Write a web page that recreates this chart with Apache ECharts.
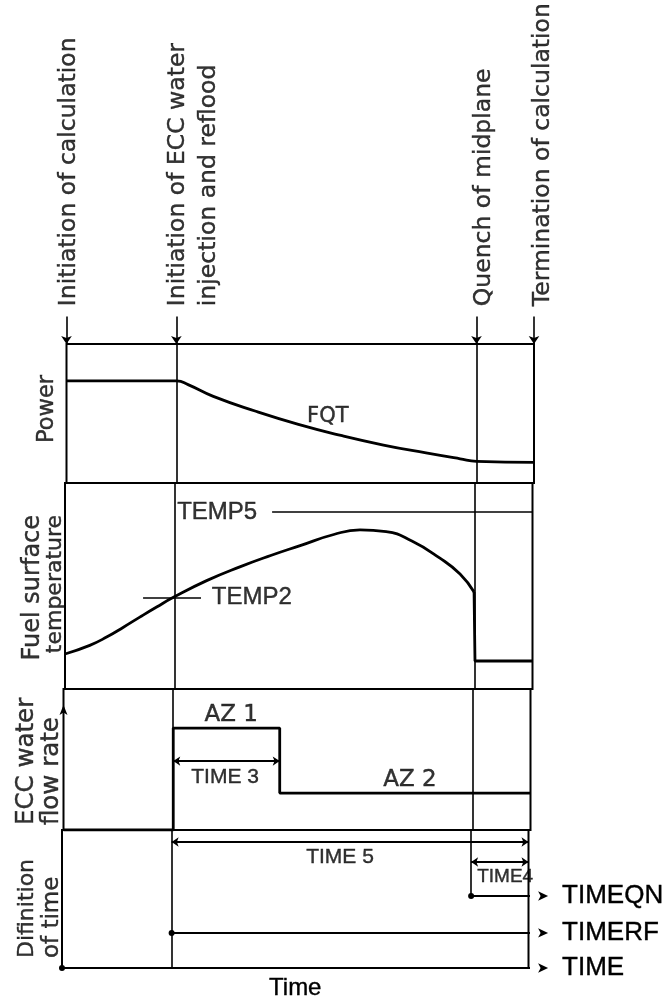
<!DOCTYPE html>
<html><head><meta charset="utf-8">
<script src="https://cdn.jsdelivr.net/npm/echarts@6/dist/echarts.min.js"></script>
<style>html,body{margin:0;padding:0;background:#fff}#chart{width:668px;height:1004px}</style>
</head><body><div id="chart"></div>
<script>
// ---------------- data (time in arbitrary units, 0 = initiation, 100 = termination) ----------------
const eventNames = [['Initiation of calculation'], ['Initiation of ECC water', 'injection and reflood'], ['Quench of midplane'], ['Termination of calculation']];
const eventTimes = [0, 23.5, 87.7, 100];
const panelNames = [['Power'], ['Fuel surface', 'temperature'], ['ECC water', 'flow rate'], ['Difinition', 'of time']];

const powerTime  = [0, 23.6, 26.0, 31.4, 40.5, 49.6, 58.7, 67.8, 76.9, 84.2, 87.7, 100];
const powerValue = [73.4, 73.4, 70.8, 62.3, 51.6, 42.2, 34.2, 27.3, 21.6, 17.4, 15.6, 14.8];

const tempTime  = [0, 5.3, 8.9, 12.5, 16.0, 19.6, 23.2, 30.3, 37.4, 44.0, 50.3, 57.5, 63.1, 68.7, 74.2, 80.2, 84.5, 87.5];
const tempValue = [17, 21.2, 25.2, 30.0, 34.9, 39.8, 44.5, 52.6, 59.3, 64.8, 69.6, 75.0, 77.2, 76.4, 71.8, 63.5, 55.8, 47.1];
const quenchTime  = [87.5, 87.7, 100];
const quenchValue = [47.1, 13.6, 13.6];
const temp5Level = 85.9, temp5Start = 44.3;
const temp2Level = 44.5, temp2TickFrom = 16.7, temp2TickTo = 29.1;

const flowTime  = [0, 23.5, 23.5, 46.3, 46.3, 100];
const flowValue = [0, 0, 72.3, 72.3, 26.2, 26.2];
const time3Level = 48.9;
const flowAxisArrow = 88.7;

const spanNames  = ['TIME 5', 'TIME4'];
const spanStart  = [23.5, 87.7];
const spanEnd    = [100, 100];
const spanLevel  = [91.3, 76.8];

const timerNames = ['TIMEQN', 'TIMERF', 'TIME'];
const timerStart = [87.7, 23.5, 0];
const timerLevel = [52.2, 25.4, 0];
const timerArrowEnd = 104.2;

// annotation anchors (data coords)
const powerNotes = [{ text: 'FQT', t: 55.9, v: 47.7 }];
const tempNotes  = [{ text: 'TEMP5', t: 24.0, v: temp5Level }, { text: 'TEMP2', t: 31.4, v: temp2Level }];
const flowNotes  = [{ text: 'AZ 1', t: 35.9, v: 81.6 }, { text: 'AZ 2', t: 74.2, v: 35.5 }, { text: 'TIME 3', t: 34.6, v: 37.6 }];
const defNotes   = [{ text: spanNames[0], t: 59.6, v: 80.4 }, { text: spanNames[1], t: 95, v: 66 }];
const panelNameAnchor = [28.8, 84.5, 3.5, 7.2];   // value where each panel title text starts/ends

// ---------------- layout / style ----------------
const boxes = [
  { top: 0,   height: 344, left: 66.5, right: 534 },
  { top: 344, height: 139, left: 66.5, right: 534 },
  { top: 483, height: 206, left: 65,   right: 532.5 },
  { top: 689, height: 141, left: 63.5, right: 530.5 },
  { top: 830, height: 138, left: 62,   right: 528.5 }
];
const INK = '#000';
const geo = 'DejaVu Sans';
const arial = 'Liberation Sans';
const eventOffsets = [2, 2, 7, 9];
const eventLineGap = 31;
const labelBase = 0.11, stubTop = 0.08;
const panelNameAlign = ['left', 'right', 'left', 'left'];
const panelNameGaps = [[19.5], [32, 10], [36.5, 11.5], [35, 10]];
const panelNameSizes = [[22.5], [24, 22], [24.5, 24.5], [22, 23]];
const ink = { color: INK, textBorderColor: INK, textBorderWidth: 0.4 };

const thin = { color: INK, width: 1.6, type: 'solid' };
const thick = { color: INK, width: 2.8, type: 'solid' };
const arrowLine = { color: INK, width: 2, type: 'solid' };

function vline(t, y1, y2) {
  if (y1 === undefined) return { xAxis: t };
  return [{ coord: [t, y1] }, { coord: [t, y2] }];
}
function noteSeries(grid, notes, font, size, align) {
  return {
    type: 'scatter', xAxisIndex: grid, yAxisIndex: grid, symbolSize: 0, silent: true, z: 5,
    data: notes.map(n => ({ value: [n.t, n.v], name: n.text })),
    label: Object.assign({ show: true, position: 'inside', formatter: p => p.name,
      fontFamily: font, fontSize: size, align: align || 'center', verticalAlign: 'middle' }, ink)
  };
}
function markLines(data, extra) {
  return Object.assign({ silent: true, symbol: 'none', label: { show: false }, lineStyle: thin, data: data, animation: false }, extra || {});
}

const series = [];

// event labels + arrow stubs above the panels
const evData = [];
eventNames.forEach((lines, i) => lines.forEach((txt, j) => evData.push({
  value: [eventTimes[i], labelBase], name: txt,
  label: { offset: [0, eventOffsets[i] + j * eventLineGap] }
})));
series.push({
  type: 'scatter', xAxisIndex: 0, yAxisIndex: 0, symbolSize: 0, silent: true, data: evData,
  label: Object.assign({ show: true, position: 'inside', rotate: 90, align: 'left', verticalAlign: 'middle',
    formatter: p => p.name, fontFamily: geo, fontSize: 23.5 }, ink),
  markLine: markLines(eventTimes.map(t => vline(t, stubTop, 0)), { symbol: ['none', 'arrow'], symbolSize: 8 })
});

// panel titles (rotated, left of each panel)
panelNames.forEach((lines, p) => series.push({
  type: 'scatter', xAxisIndex: p + 1, yAxisIndex: p + 1, symbolSize: 0, silent: true,
  data: lines.map((txt, j) => ({ value: [0, panelNameAnchor[p]], name: txt,
    label: { offset: [0, -panelNameGaps[p][j]], fontSize: panelNameSizes[p][j] } })),
  label: Object.assign({ show: true, position: 'inside', rotate: 90, align: panelNameAlign[p], verticalAlign: 'middle',
    formatter: q => q.name, fontFamily: geo }, ink)
}));

// power panel
series.push({
  type: 'line', xAxisIndex: 1, yAxisIndex: 1, showSymbol: false, smooth: 0.5, silent: true,
  lineStyle: thick, data: powerTime.map((t, i) => [t, powerValue[i]]),
  markLine: markLines([vline(eventTimes[1]), vline(eventTimes[2])])
});
series.push(noteSeries(1, powerNotes, geo, 21));

// fuel temperature panel
series.push({
  type: 'line', xAxisIndex: 2, yAxisIndex: 2, showSymbol: false, smooth: 0.5, silent: true,
  lineStyle: thick, data: tempTime.map((t, i) => [t, tempValue[i]]),
  markLine: markLines([vline(eventTimes[1]), vline(eventTimes[2]),
    [{ coord: [temp5Start, temp5Level] }, { coord: [100, temp5Level] }],
    [{ coord: [temp2TickFrom, temp2Level] }, { coord: [temp2TickTo, temp2Level] }]])
});
series.push({
  type: 'line', xAxisIndex: 2, yAxisIndex: 2, showSymbol: false, silent: true,
  lineStyle: thick, data: quenchTime.map((t, i) => [t, quenchValue[i]])
});
series.push(noteSeries(2, tempNotes, arial, 24, 'left'));

// ECC flow panel
series.push({
  type: 'line', xAxisIndex: 3, yAxisIndex: 3, showSymbol: false, silent: true,
  lineStyle: thick, data: flowTime.map((t, i) => [t, flowValue[i]]),
  markLine: markLines([vline(eventTimes[1]), vline(eventTimes[2])]),
  markPoint: { silent: true, symbol: 'arrow', symbolSize: [6, 10], itemStyle: { color: INK }, label: { show: false },
    data: [{ coord: [0, flowAxisArrow] }] }
});
series.push({
  type: 'line', xAxisIndex: 3, yAxisIndex: 3, showSymbol: false, silent: true, data: [],
  markLine: markLines([[{ coord: [eventTimes[1], time3Level] }, { coord: [flowTime[3], time3Level] }]],
    { symbol: ['arrow', 'arrow'], symbolSize: 7, lineStyle: arrowLine })
});
series.push(noteSeries(3, flowNotes.slice(0, 2), geo, 23));
series.push(noteSeries(3, flowNotes.slice(2), arial, 21));

// definition of time panel
series.push({
  type: 'line', xAxisIndex: 4, yAxisIndex: 4, showSymbol: false, silent: true, data: [],
  markLine: markLines([vline(eventTimes[1]), vline(eventTimes[2], 100, timerLevel[0])])
});
series.push({
  type: 'line', xAxisIndex: 4, yAxisIndex: 4, showSymbol: false, silent: true, data: [],
  markLine: markLines(spanNames.map((n, i) => [{ coord: [spanStart[i], spanLevel[i]] }, { coord: [spanEnd[i], spanLevel[i]] }]),
    { symbol: ['arrow', 'arrow'], symbolSize: 7, lineStyle: arrowLine })
});
series.push(noteSeries(4, defNotes.slice(0, 1), arial, 21));
series.push(noteSeries(4, defNotes.slice(1), arial, 19));
timerNames.forEach((n, i) => series.push({
  type: 'line', xAxisIndex: 4, yAxisIndex: 4, silent: true, clip: false, z: 4,
  lineStyle: arrowLine, itemStyle: { color: INK },
  data: [
    { value: [timerStart[i], timerLevel[i]], symbol: 'circle', symbolSize: 6 },
    { value: [timerArrowEnd, timerLevel[i]], symbol: 'arrow', symbolRotate: -90, symbolSize: [7, 10],
      label: Object.assign({ show: true, position: 'right', distance: 14, formatter: n, fontFamily: arial, fontSize: 26 }, ink) }
  ]
}));

const option = {
  animation: false,
  backgroundColor: '#fff',
  grid: boxes.map((b, i) => ({ left: b.left, top: b.top, width: b.right - b.left, height: b.height,
    show: i > 0, borderColor: INK, borderWidth: 2, backgroundColor: 'transparent' })),
  xAxis: boxes.map((b, i) => ({
    type: 'value', gridIndex: i, min: 0, max: 100, show: i === 4,
    axisLine: { show: false }, axisTick: { show: false }, axisLabel: { show: false }, splitLine: { show: false },
    name: i === 4 ? 'Time' : '', nameLocation: 'middle', nameGap: 8,
    nameTextStyle: Object.assign({ fontFamily: arial, fontSize: 24, verticalAlign: 'top' }, ink)
  })),
  yAxis: boxes.map((b, i) => ({
    type: 'value', gridIndex: i, min: 0, max: i === 0 ? 1 : 100, show: false,
    splitLine: { show: false }
  })),
  series: series
};
const chart = echarts.init(document.getElementById('chart'));
chart.setOption(option);
</script></body></html>
